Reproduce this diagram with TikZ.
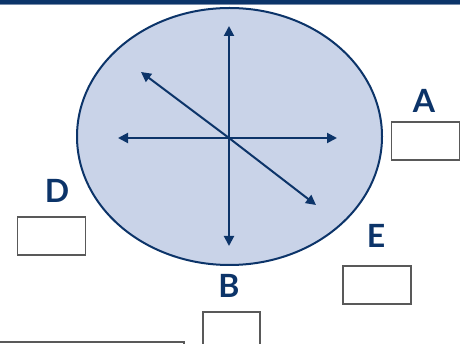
\documentclass[tikz,border=0pt]{standalone}
\usepackage{fontspec}
\setmainfont{Lato}
\usetikzlibrary{arrows.meta}
\definecolor{navy}{RGB}{12,52,105}
\definecolor{paleblue}{RGB}{201,211,232}
\definecolor{bargrey}{RGB}{120,140,170}
\begin{document}
\begin{tikzpicture}[x=1pt, y=-1pt,
	vec/.style={navy, line width=2pt, -{Triangle[length=10pt,width=10pt]}},
	lbl/.style={inner sep=0pt, text=navy, font=\fontsize{32}{36}\selectfont\bfseries},
	ansbox/.style={draw=black!65, fill=white, line width=1.3pt, minimum width=68pt, minimum height=38pt, inner sep=0pt}]
	\useasboundingbox (0,0) rectangle (460,344);
	% top bar
	\fill[navy] (0,0) rectangle (460,4);
	\draw[bargrey, line width=1pt] (0,4.5) -- (460,4.5);

	% the ellipse
	\draw[navy, fill=paleblue, line width=2pt] (229.5,136.5) ellipse [x radius=152.5, y radius=128.5];

	\coordinate (c) at (229,138);
	\coordinate (up) at (229,26);
	\coordinate (dn) at (229,246);
	\coordinate (lf) at (118,138);
	\coordinate (rt) at (337,138);
	\coordinate (ul) at (141,72);
	\coordinate (dr) at (316,205);
	\draw[vec] (c) -- (up);
	\draw[vec] (c) -- (dn);
	\draw[vec] (c) -- (lf);
	\draw[vec] (c) -- (rt);
	\draw[vec] (c) -- (ul);
	\draw[vec] (c) -- (dr);

	% labels and answer boxes
	\node[lbl] (la) at (424,101) {A};
	\node[lbl] (ld) at (57,191) {D};
	\node[lbl] (lb) at (229,286) {B};
	\node[lbl] (le) at (376,236) {E};

	\node[ansbox] (ba) at (425.5,141) {};
	\node[ansbox] (bd) at (51.5,236) {};
	\node[ansbox] (be) at (377,285) {};
	\node[ansbox, minimum width=57pt] (bb) at (231.5,331) {};
	\node[ansbox, minimum width=186pt] (bx) at (91,361) {};
\end{tikzpicture}
\end{document}
